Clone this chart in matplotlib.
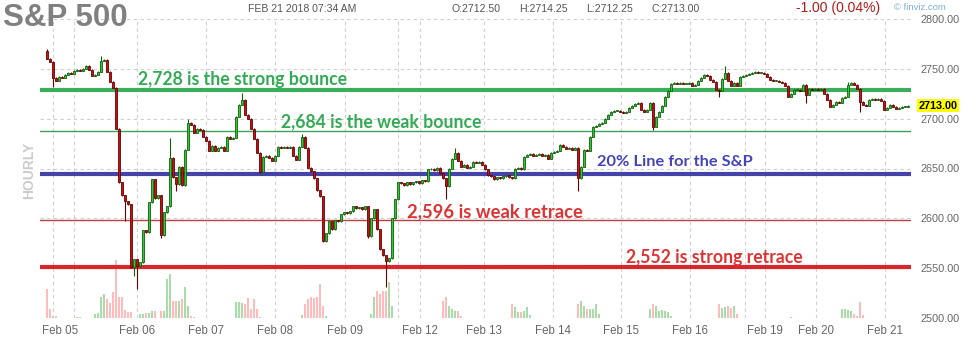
import matplotlib
matplotlib.use("Agg")
import matplotlib.pyplot as plt
import matplotlib.transforms as mtrans
import numpy as np

# hourly closes, S&P 500 futures, Feb 05 - Feb 21 2018
closes = [
    2760, 2757, 2741, 2738, 2742, 2741, 2744, 2746, 2745, 2748, 2749, 2748,
    2750, 2753, 2749, 2743, 2744, 2747, 2758, 2759, 2747, 2737, 2731, 2690,
    2636, 2623, 2617, 2614, 2551, 2559, 2552, 2556, 2588, 2586, 2616, 2639,
    2620, 2623, 2583, 2606, 2612, 2661, 2641, 2634, 2652, 2633, 2669, 2696,
    2694, 2686, 2690, 2689, 2682, 2678, 2668, 2673, 2668, 2671, 2672, 2668,
    2682, 2680, 2681, 2702, 2714, 2719, 2704, 2700, 2690, 2680, 2666, 2646,
    2662, 2663, 2661, 2658, 2663, 2672, 2671, 2672, 2671, 2672, 2663, 2659,
    2672, 2682, 2671, 2651, 2647, 2640, 2628, 2622, 2577, 2585, 2597, 2589,
    2598, 2597, 2604, 2606, 2605, 2607, 2612, 2610, 2611, 2609, 2612, 2582,
    2600, 2609, 2589, 2569, 2563, 2557, 2560, 2600, 2619, 2636, 2635, 2633,
    2636, 2634, 2636, 2637, 2635, 2638, 2637, 2649, 2650, 2648, 2651, 2645,
    2640, 2632, 2650, 2660, 2666, 2658, 2652, 2654, 2651, 2652, 2657, 2656,
    2657, 2654, 2649, 2643, 2642, 2639, 2641, 2640, 2642, 2643, 2641, 2640,
    2650, 2651, 2649, 2662, 2664, 2665, 2663, 2664, 2665, 2663, 2664, 2660,
    2666, 2667, 2668, 2674, 2672, 2670, 2671, 2669, 2671, 2640, 2652, 2669,
    2668, 2682, 2692, 2693, 2695, 2696, 2700, 2704, 2707, 2708, 2708, 2707,
    2706, 2707, 2711, 2713, 2715, 2716, 2709, 2707, 2709, 2716, 2692, 2702,
    2707, 2713, 2722, 2728, 2735, 2736, 2735, 2736, 2735, 2735, 2736, 2733,
    2734, 2738, 2741, 2744, 2743, 2739, 2737, 2729, 2728, 2740, 2746, 2738,
    2733, 2736, 2733, 2742, 2743, 2744, 2745, 2746, 2747, 2746, 2746, 2745,
    2742, 2739, 2738, 2738, 2737, 2736, 2733, 2722, 2725, 2729, 2729, 2728,
    2734, 2724, 2730, 2729, 2730, 2729, 2730, 2725, 2719, 2712, 2714, 2717,
    2716, 2721, 2722, 2734, 2736, 2734, 2730, 2717, 2714, 2713, 2719, 2720,
    2719, 2720, 2718, 2709, 2711, 2714, 2712, 2710, 2711, 2712, 2712, 2713,
]
first_open = 2768

# notable wicks (bar index: price)
wick_high = {0: 2770, 18: 2763, 41: 2681, 47: 2700, 65: 2726, 85: 2685,
             136: 2671, 177: 2672, 226: 2753, 267: 2737}
wick_low = {2: 2732, 26: 2597, 29: 2542, 30: 2529, 38: 2580, 43: 2627,
            107: 2580, 113: 2531, 133: 2619, 177: 2627, 202: 2689,
            224: 2722, 253: 2716, 271: 2707}

# volume (relative), bar index: value
volume = {0: 29, 1: 9, 2: 2, 3: 2, 10: 1, 11: 1, 16: 4, 17: 5, 18: 21, 19: 24,
          20: 19, 21: 15, 22: 26, 23: 58, 24: 21, 25: 21, 26: 8, 27: 6, 28: 6,
          31: 4, 32: 4, 33: 5, 34: 5, 35: 7, 36: 7, 38: 7, 39: 7, 40: 39,
          41: 44, 42: 17, 43: 17, 44: 17, 45: 19, 46: 31, 47: 12, 48: 2, 49: 1,
          63: 16, 64: 16, 65: 15, 66: 14, 67: 20, 68: 9, 69: 19, 70: 9, 71: 1,
          85: 3, 86: 14, 87: 19, 88: 21, 89: 20, 90: 21, 91: 34, 92: 12, 93: 2,
          108: 4, 109: 21, 110: 27, 111: 24, 112: 27, 113: 27, 114: 36, 115: 12,
          132: 17, 133: 21, 134: 12, 135: 9, 136: 7, 137: 7, 138: 2,
          155: 14, 156: 11, 157: 6, 158: 6, 159: 7, 160: 11, 161: 3,
          177: 14, 178: 17, 179: 12, 180: 9, 181: 9, 182: 9, 183: 14, 184: 4,
          201: 9, 202: 14, 203: 12, 204: 7, 205: 8, 206: 7, 207: 6, 208: 2,
          224: 14, 225: 10, 226: 11, 227: 12, 228: 10, 229: 12, 230: 4,
          248: 1, 265: 9, 266: 9, 267: 8, 268: 7, 269: 4, 270: 2, 271: 16, 272: 3}

day_labels = ["Feb 05", "Feb 06", "Feb 07", "Feb 08", "Feb 09", "Feb 12", "Feb 13",
              "Feb 14", "Feb 15", "Feb 16", "Feb 19", "Feb 20", "Feb 21"]
day_idx = [4.5, 30, 53, 76, 99.3, 124.3, 145.7, 168.7, 191.3, 214.3, 239.3, 256.3, 279.3]
session_idx = [2, 9, 117, 232.7]

levels = [2729, 2688, 2644, 2598, 2551]
level_notes = ["2,728 is the strong bounce", "2,684 is the weak bounce",
               "20% Line for the S&P", "2,596 is weak retrace", "2,552 is strong retrace"]
last_price = 2713.00

W, H = 967, 337
fig = plt.figure(figsize=(W / 100, H / 100), dpi=100)
fig.patch.set_facecolor("white")
ax = fig.add_axes([40 / W, 19 / H, 871 / W, 299 / H])
axv = ax.twinx()
ax.set_zorder(axv.get_zorder() + 1)
ax.patch.set_visible(False)

n = len(closes)
idx = np.arange(n)
opens = [first_open] + closes[:-1]
up = np.array(closes) >= np.array(opens)

# volume
vols = [volume.get(i, 0) for i in range(n)]
vcol = ["#a8dca8" if u else "#ffbaba" for u in up]
axv.bar(idx, vols, width=0.85, color=vcol, linewidth=0)
axv.set_ylim(0, 299)
axv.set_yticks([])
for s in axv.spines.values():
    s.set_visible(False)

ax.set_xlim(-2.33, 288)
ax.set_ylim(2500, 2800)

# grid
for y in range(2500, 2801, 50):
    ax.axhline(y, color="#cfcfcf", lw=0.8, ls=(0, (3, 3)), zorder=0)
for x in day_idx[1:] + session_idx + [288]:
    ax.axvline(x, color="#cfcfcf", lw=0.8, ls=(0, (3, 3)), zorder=0)

# level lines
lcols = ["#3aae5a", "#3f9f55", "#4343a8", "#b84040", "#d8262c"]
lws = [3, 1, 3, 1, 3]
for lv, c, w in zip(levels, lcols, lws):
    ax.axhline(lv, color=c, lw=w, zorder=1)

# candles
bot = [min(o, c) for o, c in zip(opens, closes)]
hgt = [max(abs(c - o), 0.8) for o, c in zip(opens, closes)]
his = [max(wick_high.get(i, 0), max(opens[i], closes[i]) + 0.5) for i in range(n)]
los = [min(wick_low.get(i, 9999), min(opens[i], closes[i]) - 0.5) for i in range(n)]
fill = ["#2fcc2f" if u else "#c81010" for u in up]
edge = ["#106010" if u else "#6a0000" for u in up]
ax.vlines(idx, los, his, colors=edge, lw=0.8, zorder=2)
ax.bar(idx, hgt, bottom=bot, width=0.72, color=fill, edgecolor=edge, linewidth=0.6, zorder=3)

# annotations
note_pos = [(30.3, 2739), (78, 2697), (183.3, 2657), (120, 2607), (193, 2561)]
note_cols = ["#33ab55", "#33ab55", "#4444bb", "#dd3333", "#dd3333"]
note_size = [12.7, 12.7, 11.8, 13.2, 12.7]
for (x, y), t, c, fs in zip(note_pos, level_notes, note_cols, note_size):
    ax.text(x, y, t, color=c, fontsize=fs, fontfamily="Lato", fontweight="bold",
            va="center", ha="left", zorder=4)

# axes styling
for s in ax.spines.values():
    s.set_visible(False)
ax.yaxis.tick_right()
ax.set_yticks(range(2500, 2801, 50))
ax.set_yticklabels(["%.2f" % v for v in range(2500, 2801, 50)])
ax.tick_params(axis="y", length=0, pad=7, labelsize=7.8, labelcolor="#666666")
ax.set_xticks(day_idx)
ax.set_xticklabels(day_labels)
ax.tick_params(axis="x", length=0, pad=5, labelsize=8.3, labelcolor="#666666")
for lab in ax.get_xticklabels() + ax.get_yticklabels():
    lab.set_fontfamily("Liberation Sans")

tr = mtrans.blended_transform_factory(ax.transAxes, ax.transData)
ax.text(1.0085, last_price, "%.2f" % last_price, transform=tr, fontsize=7.8,
        fontfamily="Liberation Sans", fontweight="bold", color="black", va="center",
        ha="left", bbox=dict(boxstyle="square,pad=0.12", fc="#ffff00", ec="none"))

# header
def ftext(x, y, s, **kw):
    fig.text(x / W, 1 - y / H, s, **kw)

ftext(3, 18, "S&P 500", fontsize=22.5, fontweight="bold", color="#808080",
      fontfamily="Liberation Sans", va="center")
ftext(248, 9, "FEB 21 2018 07:34 AM", fontsize=7.6, color="#555555",
      fontfamily="Liberation Sans", va="center")
ftext(451, 9, "O:2712.50", fontsize=7.6, color="#555555", fontfamily="Liberation Sans", va="center")
ftext(519, 9, "H:2714.25", fontsize=7.6, color="#555555", fontfamily="Liberation Sans", va="center")
ftext(586, 9, "L:2712.25", fontsize=7.6, color="#555555", fontfamily="Liberation Sans", va="center")
ftext(651, 9, "C:2713.00", fontsize=7.6, color="#555555", fontfamily="Liberation Sans", va="center")
ftext(796, 8, "-1.00 (0.04%)", fontsize=10, color="#b01c1c",
      fontfamily="Liberation Sans", va="center")
ftext(894, 7, "\u00a9 finviz.com", fontsize=6.8, color="#7fb0d8",
      fontfamily="Liberation Sans", va="center")
ftext(29, 170, "HOURLY", fontsize=10, fontweight="bold", color="#cccccc",
      fontfamily="Liberation Sans", rotation=90, ha="center", va="center")

fig.savefig("out.png", dpi=100)
